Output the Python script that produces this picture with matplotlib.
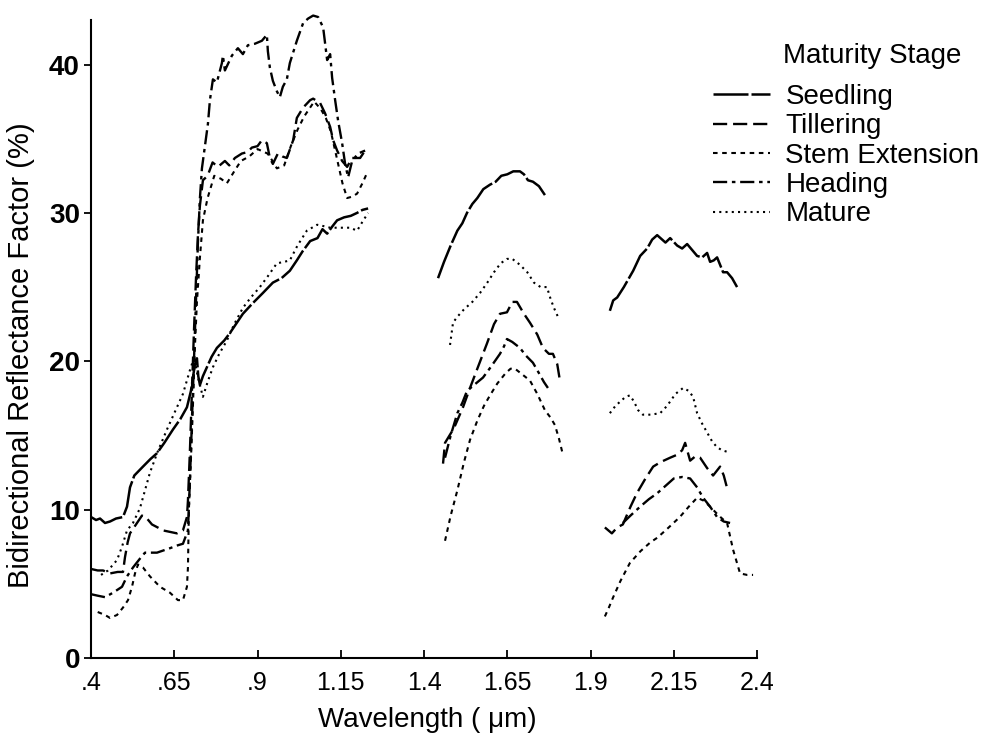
import numpy as np
import matplotlib
matplotlib.use('Agg')
import matplotlib.pyplot as plt

plt.rcParams['font.family'] = ['Liberation Sans', 'DejaVu Sans']

nan = np.nan

# readings, three wavelength windows per curve, split by nan
seedling_x = [0.40, 0.415, 0.427, 0.442, 0.457, 0.475, 0.496, 0.508, 0.517, 0.53, 0.556, 0.578, 0.598, 0.62,
              0.646, 0.668, 0.688, 0.70, 0.706, 0.712, 0.718, 0.722, 0.727, 0.736, 0.748, 0.762, 0.778, 0.80,
              0.817, 0.835, 0.856, 0.885, 0.916, 0.946, 0.972, 0.997, 1.018, 1.035, 1.058, 1.08, 1.095, 1.109,
              1.125, 1.139, 1.16, 1.18, 1.199, 1.215, 1.232, nan,
              1.442, 1.46, 1.48, 1.50, 1.515, 1.529, 1.545, 1.56, 1.578, 1.598, 1.615, 1.632, 1.65, 1.668,
              1.688, 1.70, 1.712, 1.727, 1.745, 1.763, nan,
              1.958, 1.968, 1.98, 2.0, 2.028, 2.049, 2.07, 2.085, 2.10, 2.115, 2.125, 2.139, 2.16, 2.175, 2.19,
              2.205, 2.22, 2.235, 2.25, 2.259, 2.27, 2.28, 2.298, 2.31, 2.325, 2.34]
seedling_y = [9.5, 9.3, 9.4, 9.1, 9.2, 9.4, 9.5, 10.2, 11.5, 12.3, 12.9, 13.4, 13.8, 14.5,
              15.4, 16.1, 16.9, 18.0, 18.9, 19.8, 20.2, 19.0, 18.4, 19.0, 19.6, 20.3, 20.9, 21.4,
              21.9, 22.5, 23.2, 23.9, 24.6, 25.3, 25.6, 26.1, 26.8, 27.4, 28.1, 28.3, 28.9, 28.6,
              29.1, 29.5, 29.7, 29.8, 30.0, 30.2, 30.3, nan,
              25.6, 26.7, 27.8, 28.8, 29.3, 30.0, 30.6, 31.0, 31.6, 31.9, 32.1, 32.5, 32.6, 32.8,
              32.8, 32.6, 32.2, 32.1, 31.8, 31.2, nan,
              23.4, 24.1, 24.3, 25.0, 26.1, 27.1, 27.6, 28.2, 28.5, 28.2, 28.0, 28.3, 27.8, 27.6, 27.9,
              27.5, 27.1, 27.0, 27.3, 26.7, 26.8, 27.0, 26.0, 26.0, 25.6, 25.0]

tillering_x = [0.40, 0.42, 0.436, 0.457, 0.48, 0.496, 0.502, 0.51, 0.517, 0.538, 0.553, 0.568, 0.583, 0.60,
               0.616, 0.637, 0.658, 0.676, 0.688, 0.691, 0.697, 0.703, 0.709, 0.715, 0.721, 0.727, 0.736,
               0.75, 0.765, 0.781, 0.802, 0.815, 0.832, 0.853, 0.87, 0.883, 0.90, 0.913, 0.928, 0.937, 0.946,
               0.961, 0.975, 0.988, 1.007, 1.018, 1.037, 1.058, 1.067, 1.088, 1.103, 1.118, 1.127, 1.139,
               1.154, 1.169, 1.184, 1.208, 1.223, nan,
               1.457, 1.463, 1.49, 1.517, 1.538, 1.56, 1.589, 1.61, 1.628, 1.649, 1.665, 1.679, 1.70, 1.718,
               1.74, 1.757, 1.775, 1.787, 1.80, 1.808, nan,
               1.943, 1.964, 1.98, 1.997, 2.02, 2.039, 2.065, 2.088, 2.11, 2.139, 2.16, 2.175, 2.184, 2.199,
               2.215, 2.229, 2.25, 2.268, 2.289, 2.30, 2.313]
tillering_y = [6.0, 5.9, 5.9, 5.7, 5.8, 5.8, 6.8, 7.8, 8.4, 9.1, 9.6, 9.4, 9.0, 8.8,
               8.6, 8.5, 8.4, 8.6, 9.5, 10.6, 14.0, 18.0, 22.0, 25.5, 28.5, 30.5, 32.2,
               32.5, 33.4, 33.1, 33.5, 33.2, 33.7, 34.0, 34.1, 34.4, 34.5, 34.9, 34.7, 33.7, 33.3,
               34.0, 33.8, 33.7, 34.9, 36.4, 37.1, 37.6, 37.7, 37.4, 36.7, 35.8, 34.9, 34.2,
               33.5, 33.1, 33.7, 33.7, 34.2, nan,
               13.1, 14.5, 15.5, 16.9, 18.2, 19.5, 21.2, 22.5, 23.2, 23.3, 24.0, 24.0, 23.2, 22.6,
               21.8, 20.9, 20.5, 20.5, 19.8, 18.7, nan,
               8.8, 8.4, 8.8, 9.0, 10.2, 11.1, 12.1, 12.9, 13.2, 13.5, 13.7, 14.0, 14.5, 13.3,
               13.6, 13.5, 12.8, 12.3, 12.9, 12.3, 11.2]

stem_x = [0.42, 0.442, 0.457, 0.478, 0.496, 0.511, 0.523, 0.532, 0.541, 0.556, 0.577, 0.607, 0.637, 0.661,
          0.676, 0.688, 0.691, 0.694, 0.70, 0.706, 0.712, 0.718, 0.727, 0.736, 0.75, 0.77, 0.79, 0.808, 0.83,
          0.85, 0.875, 0.90, 0.93, 0.945, 0.958, 0.98, 1.0, 1.02, 1.04, 1.07, 1.09, 1.105, 1.12, 1.14, 1.155,
          1.169, 1.185, 1.199, 1.215, 1.229, nan,
          1.463, 1.48, 1.50, 1.52, 1.538, 1.56, 1.58, 1.598, 1.62, 1.645, 1.66, 1.673, 1.69, 1.718, 1.74,
          1.763, 1.78, 1.793, 1.805, 1.817, nan,
          1.943, 1.955, 1.968, 1.99, 2.018, 2.05, 2.08, 2.10, 2.13, 2.168, 2.195, 2.22, 2.24, 2.259, 2.285,
          2.31, 2.328, 2.349, 2.37, 2.388]
stem_y = [3.1, 2.9, 2.7, 2.9, 3.4, 3.9, 4.8, 5.7, 6.3, 6.1, 5.5, 4.8, 4.4, 3.9,
          3.9, 4.8, 6.1, 10.1, 13.4, 17.0, 21.0, 24.0, 27.0, 29.5, 31.0, 32.5, 32.3, 32.0, 32.8,
          33.5, 33.8, 34.3, 34.0, 33.5, 33.0, 33.2, 34.5, 35.6, 36.5, 37.5, 37.0, 36.4, 35.5, 33.5, 32.0,
          31.0, 31.1, 31.3, 32.0, 32.7, nan,
          7.9, 9.6, 11.3, 13.2, 14.7, 16.0, 17.0, 17.7, 18.5, 19.2, 19.5, 19.5, 19.2, 18.7, 17.8,
          16.7, 16.2, 15.7, 14.8, 13.7, nan,
          2.8, 3.4, 4.1, 5.2, 6.4, 7.2, 7.8, 8.1, 8.7, 9.5, 10.2, 10.8, 10.6, 10.2, 9.6,
          9.1, 7.3, 5.7, 5.6, 5.6]

heading_x = [0.40, 0.42, 0.442, 0.466, 0.493, 0.508, 0.526, 0.547, 0.562, 0.598, 0.637, 0.661, 0.676, 0.691,
             0.697, 0.703, 0.709, 0.715, 0.721, 0.727, 0.733, 0.742, 0.751, 0.757, 0.766, 0.778, 0.793, 0.796,
             0.802, 0.823, 0.841, 0.856, 0.871, 0.892, 0.913, 0.928, 0.931, 0.937, 0.946, 0.958, 0.967, 0.976,
             0.988, 0.997, 1.018, 1.037, 1.052, 1.067, 1.082, 1.097, 1.103, 1.109, 1.118, 1.124, 1.133, 1.142,
             1.154, 1.163, 1.172, 1.184, 1.202, 1.223, nan,
             1.463, 1.48, 1.50, 1.515, 1.529, 1.55, 1.577, 1.60, 1.628, 1.64, 1.649, 1.665, 1.688, 1.705,
             1.727, 1.745, 1.76, 1.772, nan,
             1.997, 2.02, 2.049, 2.075, 2.10, 2.125, 2.15, 2.175, 2.199, 2.22, 2.238, 2.259, 2.28, 2.30, 2.319]
heading_y = [4.3, 4.2, 4.1, 4.4, 4.8, 5.5, 6.1, 6.7, 7.1, 7.1, 7.4, 7.6, 7.7, 8.6,
             12.0, 16.0, 20.0, 24.0, 28.0, 31.0, 33.0, 34.5, 36.0, 37.6, 39.0, 38.8, 40.1, 40.6,
             39.6, 40.6, 41.1, 40.7, 41.3, 41.4, 41.6, 42.0, 40.9, 39.8, 38.9, 38.2, 37.8, 38.5,
             39.0, 40.1, 41.6, 42.8, 43.1, 43.3, 43.2, 42.5, 41.4, 40.3, 40.7, 39.1, 37.6, 36.2,
             34.7, 33.3, 32.4, 33.5, 34.0, 34.2, nan,
             13.5, 15.0, 16.5, 17.2, 18.0, 18.4, 18.9, 19.6, 20.5, 21.0, 21.5, 21.3, 20.9, 20.4,
             19.9, 19.2, 18.6, 18.2, nan,
             9.1, 9.6, 10.2, 10.7, 11.1, 11.6, 12.1, 12.2, 12.1, 11.5, 10.8, 10.2, 9.5, 9.2, 9.1]

mature_x = [0.43, 0.451, 0.478, 0.493, 0.508, 0.526, 0.547, 0.562, 0.577, 0.60, 0.628, 0.652, 0.676, 0.697,
            0.71, 0.72, 0.736, 0.75, 0.766, 0.785, 0.808, 0.83, 0.856, 0.88, 0.907, 0.93, 0.958, 0.98, 0.997,
            1.02, 1.048, 1.079, 1.10, 1.118, 1.15, 1.178, 1.199, 1.215, 1.232, nan,
            1.478, 1.487, 1.50, 1.52, 1.545, 1.568, 1.59, 1.61, 1.63, 1.649, 1.665, 1.688, 1.71, 1.73, 1.75,
            1.769, 1.78, 1.79, 1.802, nan,
            1.958, 1.975, 1.99, 2.005, 2.018, 2.03, 2.043, 2.057, 2.08, 2.109, 2.13, 2.155, 2.178, 2.195,
            2.208, 2.22, 2.235, 2.25, 2.265, 2.28, 2.295, 2.31]
mature_y = [5.6, 5.9, 6.6, 7.5, 8.6, 9.1, 10.1, 11.3, 12.5, 13.9, 15.4, 16.6, 17.8, 19.4,
            20.3, 19.0, 17.6, 18.6, 19.6, 20.5, 21.4, 22.5, 23.6, 24.3, 25.0, 25.7, 26.6, 26.7, 26.8,
            27.8, 28.8, 29.2, 29.1, 29.0, 29.0, 29.0, 28.8, 29.4, 30.0, nan,
            21.1, 22.6, 23.0, 23.5, 24.0, 24.6, 25.3, 26.0, 26.6, 26.9, 26.9, 26.5, 26.0, 25.3, 25.0,
            25.0, 24.2, 23.6, 23.0, nan,
            16.5, 17.0, 17.3, 17.6, 17.7, 17.3, 16.7, 16.4, 16.4, 16.5, 17.0, 17.8, 18.2, 18.0,
            17.6, 16.5, 15.8, 15.2, 14.6, 14.2, 14.0, 13.9]

stages = ['Seedling', 'Tillering', 'Stem Extension', 'Heading', 'Mature']
tick_pos = [0.4, 0.65, 0.9, 1.15, 1.4, 1.65, 1.9, 2.15, 2.4]
tick_lab = ['.4', '.65', '.9', '1.15', '1.4', '1.65', '1.9', '2.15', '2.4']

fig = plt.figure(figsize=(9.96, 7.38), dpi=100)
ax = fig.add_axes([0.0914, 0.1084, 0.6687, 0.8645])

styles = [(0, (14, 1.2)), (0, (6, 2.5)), (0, (2.2, 2.2)), (0, (6, 2, 1.5, 2)), (0, (1, 2))]
xs = [seedling_x, tillering_x, stem_x, heading_x, mature_x]
ys = [seedling_y, tillering_y, stem_y, heading_y, mature_y]
widths = [1.8, 1.7, 1.5, 1.7, 1.5]

for x, y, ls, lw, name in zip(xs, ys, styles, widths, stages):
    ax.plot(x, y, color='black', linestyle=ls, linewidth=lw, label=name, clip_on=False)

ax.set_xlim(0.4, 2.4)
ax.set_ylim(0, 43)
ax.set_xticks(tick_pos)
ax.set_xticklabels(tick_lab)
ax.set_yticks([0, 10, 20, 30, 40])
ax.tick_params(axis='x', direction='in', length=6, width=1.3, pad=9, labelsize=18)
ax.tick_params(axis='y', direction='out', length=5, width=1.3, pad=3, labelsize=20)
for t in ax.get_yticklabels():
    t.set_fontweight('bold')
ax.spines['top'].set_visible(False)
ax.spines['right'].set_visible(False)
ax.spines['left'].set_linewidth(1.5)
ax.spines['bottom'].set_linewidth(1.5)

fig.text(0.429, 0.024, 'Wavelength ( \u03bcm)', ha='center', va='center', fontsize=20)
fig.text(0.021, 0.519, 'Bidirectional Reflectance Factor (%)', rotation=90,
         ha='center', va='center', fontsize=21)

fig.text(0.786, 0.924, 'Maturity Stage', ha='left', va='center', fontsize=20)
ax.legend(loc='upper left', bbox_to_anchor=(0.716, 0.886), bbox_transform=fig.transFigure,
          frameon=False, fontsize=20, handlelength=2.05, handletextpad=0.55,
          labelspacing=0.12, borderpad=0, borderaxespad=0)

fig.savefig('out.png', dpi=100)
